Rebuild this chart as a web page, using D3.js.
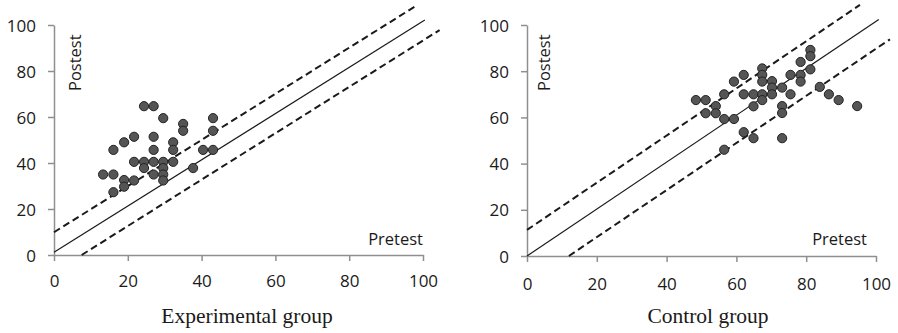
<!DOCTYPE html>
<html>
<head>
<meta charset="utf-8">
<script src="https://cdn.jsdelivr.net/npm/d3@7"></script>
<style>
  body { margin: 0; background: #fff; }
  svg { display: block; }
</style>
</head>
<body>
<svg id="chart" width="898" height="333"></svg>
<script>
// pretest / posttest scores
const experimentalPoints = [
  [13.3, 35], [16.1, 35], [16.1, 45.7], [16.1, 27.3], [19, 49], [19, 32.6], [19, 29.7],
  [21.7, 51.4], [21.7, 40.5], [21.7, 32.4], [24.4, 64.7], [24.4, 40.5], [24.4, 37.8],
  [27, 64.7], [27, 51.4], [27, 45.7], [27, 40.5], [27, 35], [29.6, 59.5], [29.6, 40.5],
  [29.6, 37.8], [29.6, 35], [29.6, 32.4], [32.3, 49], [32.3, 45.7], [32.3, 40.5],
  [35, 57], [35, 54], [37.7, 37.8], [40.4, 45.7], [43.1, 59.5], [43.1, 54], [43.1, 45.7]
];
const controlPoints = [
  [48.4, 67.5], [51.2, 67.5], [51.2, 61.8], [54.1, 64.9], [54.1, 61.8], [56.5, 70],
  [56.5, 59.3], [56.5, 46], [59.3, 59.3], [59.3, 75.5], [62.1, 78.4], [62.1, 70],
  [62.1, 53.6], [64.9, 70], [64.9, 64.8], [64.9, 51], [67.4, 81.2], [67.4, 78.4],
  [67.4, 75.5], [67.4, 70], [67.4, 67.5], [70.2, 75.7], [70.2, 72.9], [70.2, 70],
  [73.1, 72.9], [73.1, 64.9], [73.1, 61.9], [73.1, 51], [75.5, 78.4], [75.5, 70],
  [78.4, 84], [78.4, 78.4], [78.4, 75.5], [81.2, 89.2], [81.2, 86.5], [81.2, 80.8],
  [83.9, 73.2], [86.5, 70], [89.3, 67.5], [94.6, 64.9]
];
// reference lines: [x1, y1, x2, y2, dashed]
const experimentalLines = [
  [0, 1.2, 100.5, 102.2, false],
  [0, 9.9, 97.8, 108, true],
  [7.5, 0, 104.5, 97.8, true]
];
const controlLines = [
  [0, 0, 100.8, 102.4, false],
  [0, 11.3, 95.4, 108.7, true],
  [12, 0, 104, 93.8, true]
];
const tickValues = [0, 20, 40, 60, 80, 100];
const groupTitles = ["Experimental group", "Control group"];

const panels = [
  { points: experimentalPoints, lines: experimentalLines, title: groupTitles[0],
    x0: 54, x1: 423, y0: 255, y1: 25, tickBase: 287, titleX: 247, pretestX: 423, postX: 81, postY: 91 },
  { points: controlPoints, lines: controlLines, title: groupTitles[1],
    x0: 527, x1: 876, y0: 256, y1: 25, tickBase: 290, titleX: 708, pretestX: 867, postX: 550, postY: 91 }
];

const svg = d3.select("#chart");
const sans = "'Open Sans', sans-serif";
const axisColor = "#8f8f8f";

panels.forEach(p => {
  const x = d3.scaleLinear().domain([0, 100]).range([p.x0, p.x1]);
  const y = d3.scaleLinear().domain([0, 100]).range([p.y0, p.y1]);
  const g = svg.append("g");

  // axes
  const xAxis = g.append("g")
    .attr("transform", `translate(0,${p.y0})`)
    .call(d3.axisBottom(x).tickValues(tickValues).tickSize(6).tickSizeOuter(0));
  const yAxis = g.append("g")
    .attr("transform", `translate(${p.x0},0)`)
    .call(d3.axisLeft(y).tickValues(tickValues).tickSize(6).tickSizeOuter(0).tickPadding(12));

  [xAxis, yAxis].forEach(a => {
    a.select(".domain").attr("stroke", axisColor).attr("stroke-width", 1.5);
    a.selectAll(".tick line").attr("stroke", axisColor).attr("stroke-width", 1.5);
    a.selectAll(".tick text")
      .attr("fill", "#1a1a1a")
      .style("font-family", sans)
      .style("font-size", "17px");
  });
  xAxis.selectAll(".tick text").attr("dy", null).attr("y", p.tickBase - p.y0);
  yAxis.selectAll(".tick text").attr("dy", "0.36em");

  // reference lines
  g.append("g").selectAll("line")
    .data(p.lines)
    .join("line")
    .attr("x1", d => x(d[0]))
    .attr("y1", d => y(d[1]))
    .attr("x2", d => x(d[2]))
    .attr("y2", d => y(d[3]))
    .attr("stroke", "#1a1a1a")
    .attr("stroke-width", d => d[4] ? 2 : 1.2)
    .attr("stroke-dasharray", d => d[4] ? "7,4" : null);

  // points
  g.append("g").selectAll("circle")
    .data(p.points)
    .join("circle")
    .attr("cx", d => x(d[0]))
    .attr("cy", d => y(d[1]))
    .attr("r", 4.6)
    .attr("fill", "#555")
    .attr("stroke", "#222")
    .attr("stroke-width", 1);

  // labels
  g.append("text")
    .attr("x", p.pretestX)
    .attr("y", 245)
    .attr("text-anchor", "end")
    .attr("fill", "#1a1a1a")
    .style("font-family", sans)
    .style("font-size", "16.5px")
    .text("Pretest");

  g.append("text")
    .attr("transform", `translate(${p.postX},${p.postY}) rotate(-90)`)
    .attr("fill", "#1a1a1a")
    .style("font-family", sans)
    .style("font-size", "16.5px")
    .text("Postest");

  g.append("text")
    .attr("x", p.titleX)
    .attr("y", 323)
    .attr("text-anchor", "middle")
    .attr("fill", "#1a1a1a")
    .style("font-family", "'Liberation Serif', serif")
    .style("font-size", "21.5px")
    .text(p.title);
});
</script>
</body>
</html>
